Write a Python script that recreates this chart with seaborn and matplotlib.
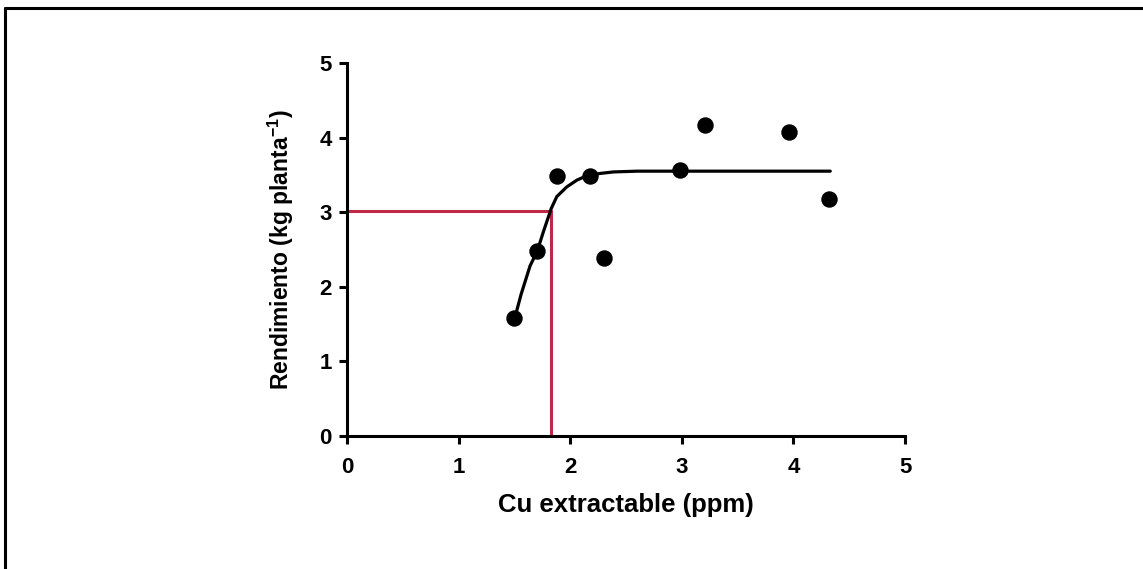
import matplotlib
matplotlib.use("Agg")
import matplotlib.pyplot as plt
from matplotlib.lines import Line2D
import seaborn as sns
import pandas as pd

# Observed points
cu_obs = [1.50, 1.70, 1.88, 2.18, 2.30, 2.98, 3.21, 3.96, 4.32]
rend_obs = [1.58, 2.48, 3.49, 3.49, 2.38, 3.57, 4.17, 4.08, 3.18]

# Fitted curve
cu_fit = [1.51, 1.56, 1.64, 1.705, 1.76, 1.83, 1.88, 1.97, 2.06, 2.15, 2.27, 2.39, 2.60, 3.00, 3.60, 4.33]
rend_fit = [1.62, 1.90, 2.28, 2.48, 2.74, 3.05, 3.21, 3.34, 3.43, 3.49, 3.52, 3.54, 3.55, 3.55, 3.55, 3.55]

# Critical level
cu_crit = 1.83
rend_crit = 3.02

x_ticks = [0, 1, 2, 3, 4, 5]
y_ticks = [0, 1, 2, 3, 4, 5]

sns.set_style("white")
plt.rcParams['font.family'] = ['Liberation Sans', 'DejaVu Sans']
plt.rcParams['text.color'] = 'black'
plt.rcParams['axes.labelcolor'] = 'black'
plt.rcParams['xtick.color'] = 'black'
plt.rcParams['ytick.color'] = 'black'
plt.rcParams['mathtext.fontset'] = 'custom'
plt.rcParams['mathtext.rm'] = 'Liberation Sans:bold'
plt.rcParams['mathtext.bf'] = 'Liberation Sans:bold'
plt.rcParams['mathtext.it'] = 'Liberation Sans:bold'
plt.rcParams['mathtext.default'] = 'bf'

fig = plt.figure(figsize=(11.43, 5.69), dpi=100)
ax = fig.add_axes([0.3036, 0.2337, 0.4882, 0.6556])

red = '#c02848'
ax.plot([0, cu_crit], [rend_crit, rend_crit], color=red, lw=2.2, zorder=2)
ax.plot([cu_crit, cu_crit], [0, rend_crit], color=red, lw=2.2, zorder=2)

fit_df = pd.DataFrame({'x': cu_fit, 'y': rend_fit})
sns.lineplot(data=fit_df, x='x', y='y', color='black', lw=2.3, ax=ax, sort=False, zorder=3)

obs_df = pd.DataFrame({'x': cu_obs, 'y': rend_obs})
sns.scatterplot(data=obs_df, x='x', y='y', color='black', s=140, edgecolor='black', linewidth=0, ax=ax, zorder=4)

ax.set_xlim(0, 5)
ax.set_ylim(0, 5)
ax.set_xticks(x_ticks)
ax.set_yticks(y_ticks)
ax.set_xticklabels([str(t) for t in x_ticks], fontsize=16, fontweight='bold', color='black')
ax.set_yticklabels([str(t) for t in y_ticks], fontsize=16, fontweight='bold', color='black')
ax.set_xlabel('Cu extractable (ppm)', fontsize=18.5, fontweight='bold', labelpad=11, color='black')
ax.set_ylabel(r'Rendimiento (kg planta$^{-1}$)', fontsize=16.5, fontweight='bold', labelpad=17, color='black')

for side in ['top', 'right']:
    ax.spines[side].set_visible(False)
for side in ['left', 'bottom']:
    ax.spines[side].set_linewidth(2.2)
    ax.spines[side].set_color('black')
ax.spines['left'].set_bounds(0, 5)
ax.spines['bottom'].set_bounds(0, 5)
ax.tick_params(axis='both', direction='out', length=6, width=2.2, color='black', labelcolor='black')
ax.tick_params(axis='x', pad=9)
ax.tick_params(axis='y', pad=5)
ax.tick_params(left=True, bottom=True)
ax.set_facecolor('white')

# figure frame (top and left edges)
fig.add_artist(Line2D([0.0045, 1.0], [0.986, 0.986], transform=fig.transFigure, color='black', lw=2.2))
fig.add_artist(Line2D([0.0045, 0.0045], [0.0, 0.986], transform=fig.transFigure, color='black', lw=2.2))

fig.savefig('out.png', dpi=100, facecolor='white')
